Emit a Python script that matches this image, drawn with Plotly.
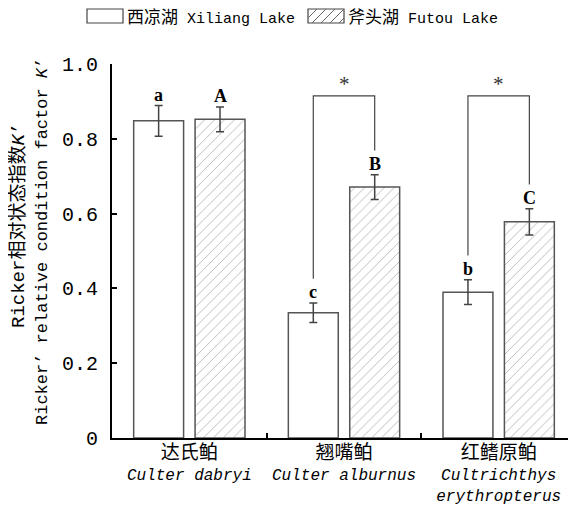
import plotly.graph_objects as go

# ---------------- data ----------------
species_cn = ["达氏鲌", "翘嘴鲌", "红鳍原鲌"]
species_latin = ["Culter dabryi", "Culter alburnus", "Cultrichthys<br>erythropterus"]
xiliang_vals = [0.848, 0.335, 0.390]
xiliang_err = [0.041, 0.026, 0.033]
futou_vals = [0.852, 0.671, 0.578]
futou_err = [0.033, 0.033, 0.035]
xiliang_letters = ["a", "c", "b"]
futou_letters = ["A", "B", "C"]
significant = [False, True, True]
y_ticks = [0, 0.2, 0.4, 0.6, 0.8, 1.0]
y_ticktext = ["0", "0.2", "0.4", "0.6", "0.8", "1.0"]
series_names = ["西凉湖 Xiliang Lake", "斧头湖 Futou Lake"]
y_title_lines = ['<span style="font-size:19px">Ricker相对状态指数<i>K</i>’</span>',
                 'Ricker’ relative condition factor <i>K</i>’']

# ---------------- style ----------------
MONO = "Liberation Mono, Noto Sans CJK SC"
SERIF = "Liberation Serif, DejaVu Serif"
BARGAP = 0.206
BARGROUPGAP = 0.187
OFF = 8  # page body margin
W, H = 568, 502
ML, MR, MT, MB = 104, 0, 56, 72
PW, PH = W - ML - MR, H - MT - MB

x_pos = list(range(len(species_cn)))
half_slot = (1 - BARGAP) / 4  # offset of each bar centre from category centre

ticktext = [
    f'<span style="font-size:19px">{cn}</span><br><i>{lt}</i>'
    for cn, lt in zip(species_cn, species_latin)
]

fig = go.Figure()
fig.add_trace(go.Bar(
    x=x_pos, y=xiliang_vals, name=series_names[0],
    marker=dict(color="white", line=dict(color="#555555", width=1.5)),
    error_y=dict(type="data", array=xiliang_err, color="#444444", thickness=1.5, width=4),
    showlegend=False,
))
fig.add_trace(go.Bar(
    x=x_pos, y=futou_vals, name=series_names[1],
    marker=dict(color="white", line=dict(color="#555555", width=1.5),
                pattern=dict(shape="/", fgcolor="#666666", bgcolor="white",
                             size=7, solidity=0.12)),
    error_y=dict(type="data", array=futou_err, color="#444444", thickness=1.5, width=4),
    showlegend=False,
))

annotations = []
shapes = []
# group letters
for i in x_pos:
    annotations.append(dict(x=i - half_slot, y=xiliang_vals[i] + xiliang_err[i],
                            xref="x", yref="y", text=f"<b>{xiliang_letters[i]}</b>",
                            showarrow=False, yanchor="bottom", yshift=-1,
                            font=dict(family=SERIF, size=18, color="black")))
    annotations.append(dict(x=i + half_slot, y=futou_vals[i] + futou_err[i],
                            xref="x", yref="y", text=f"<b>{futou_letters[i]}</b>",
                            showarrow=False, yanchor="bottom", yshift=-1,
                            font=dict(family=SERIF, size=18, color="black")))

# significance brackets
BR_TOP = 0.915
LEG_GAP = 0.065
for i in x_pos:
    if not significant[i]:
        continue
    xl, xr = i - half_slot, i + half_slot
    yl = xiliang_vals[i] + xiliang_err[i] + LEG_GAP
    yr = futou_vals[i] + futou_err[i] + LEG_GAP
    shapes.append(dict(type="path", xref="x", yref="y",
                       path=f"M {xl} {yl} L {xl} {BR_TOP} L {xr} {BR_TOP} L {xr} {yr}",
                       line=dict(color="#444444", width=1.2)))
    annotations.append(dict(x=i, y=BR_TOP, xref="x", yref="y", text="*",
                            showarrow=False, yanchor="bottom", yshift=-2,
                            font=dict(family=SERIF, size=21, color="#333333")))


def px_x(p):
    return (p - OFF - ML) / PW


def px_y(p):
    return (MT + PH - (p - OFF)) / PH


# y-axis title (two lines, each placed as in the original)
for txt, cx, cy in zip(y_title_lines, [19, 42], [226, 242]):
    annotations.append(dict(
        x=px_x(cx), y=px_y(cy), xref="paper", yref="paper", text=txt,
        textangle=-90, showarrow=False, xanchor="center", yanchor="middle",
        font=dict(family=MONO, size=17, color="black")))

# manual legend (wide rectangles as in the original)
box_top, box_bot = 9, 23
legend_items = [(87, 123, 125, False), (308, 344, 346, True)]
for (bx0, bx1, tx, hatched), name in zip(legend_items, series_names):
    shapes.append(dict(type="rect", xref="paper", yref="paper",
                       x0=px_x(bx0), x1=px_x(bx1), y0=px_y(box_bot), y1=px_y(box_top),
                       line=dict(color="#444444", width=1.2), fillcolor="white"))
    if hatched:
        segs = []
        hgt = box_bot - box_top
        for start in range(bx0 - hgt, bx1, 9):
            xa, ya = start, box_bot
            xb, yb = start + hgt, box_top
            if xa < bx0:
                ya = box_bot - (bx0 - xa)
                xa = bx0
            if xb > bx1:
                yb = box_top + (xb - bx1)
                xb = bx1
            if xb <= xa:
                continue
            segs.append(f"M {px_x(xa)} {px_y(ya)} L {px_x(xb)} {px_y(yb)}")
        shapes.append(dict(type="path", xref="paper", yref="paper", path=" ".join(segs),
                           line=dict(color="#666666", width=1)))
    cn, en = name.split(" ", 1)
    annotations.append(dict(x=px_x(tx), y=px_y(17.5),
                            xref="paper", yref="paper", showarrow=False,
                            xanchor="left", yanchor="middle",
                            text=f'<span style="font-size:17px">{cn}</span> {en}',
                            font=dict(family=MONO, size=15, color="black")))

fig.update_layout(
    width=W, height=H,
    margin=dict(l=ML, r=MR, t=MT, b=MB, pad=0),
    plot_bgcolor="white", paper_bgcolor="white",
    barmode="group", bargap=BARGAP, bargroupgap=BARGROUPGAP,
    showlegend=False,
    annotations=annotations, shapes=shapes,
    font=dict(family=MONO, color="black"),
)
fig.update_xaxes(
    range=[-0.5, 2.5], tickvals=x_pos, ticktext=ticktext,
    showline=True, linecolor="black", linewidth=2,
    ticks="", showgrid=False, zeroline=False,
    tickfont=dict(family=MONO, size=16, color="black"),
    minor=dict(tickvals=[0.5, 1.5], ticks="inside", ticklen=5, tickwidth=1.5, tickcolor="black"),
)
fig.update_yaxes(
    range=[0, 1.0], tickvals=y_ticks, ticktext=y_ticktext,
    showline=True, linecolor="black", linewidth=2,
    ticks="inside", ticklen=5, tickwidth=1.5, tickcolor="black",
    showgrid=False, zeroline=False, ticklabelstandoff=8,
    tickfont=dict(family=MONO, size=20, color="black"),
)

fig.write_html("out.html")
